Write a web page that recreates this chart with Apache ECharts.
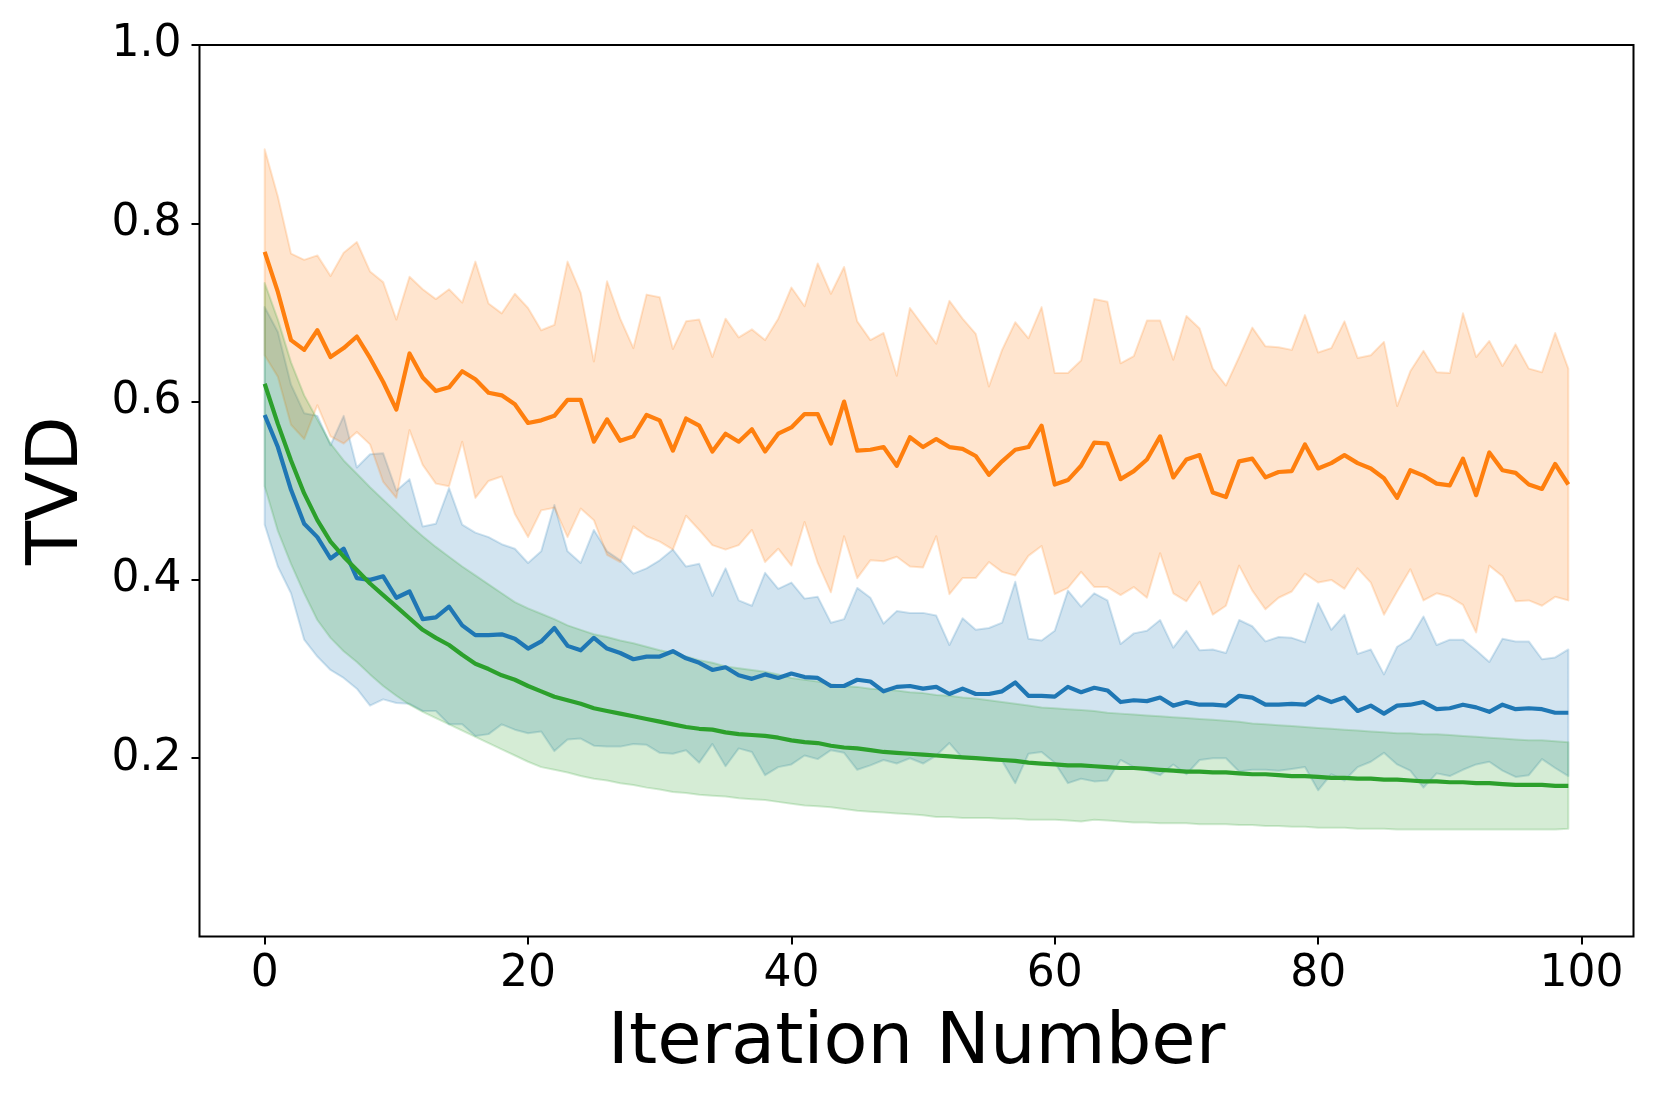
<!DOCTYPE html>
<html>
<head>
<meta charset="utf-8">
<script src="https://cdn.jsdelivr.net/npm/echarts@6/dist/echarts.min.js"></script>
<style>
  html, body { margin: 0; padding: 0; background: #ffffff; }
  #chart { width: 1661px; height: 1107px; }
</style>
</head>
<body>
<div id="chart"></div>
<script>
// ---- data (iterations 0..99) ----
const xTickValues = [0, 20, 40, 60, 80, 100];
const yTickValues = [0.2, 0.4, 0.6, 0.8, 1.0];

const orangeMean = [0.768,0.723,0.669,0.658,0.680,0.650,0.660,0.673,0.649,0.622,0.591,0.654,0.627,0.612,0.616,0.634,0.625,0.610,0.607,0.597,
0.576,0.579,0.584,0.602,0.602,0.555,0.580,0.556,0.561,0.585,0.579,0.545,0.581,0.573,0.544,0.564,0.555,0.569,0.544,0.564,
0.571,0.586,0.586,0.553,0.600,0.545,0.546,0.549,0.528,0.560,0.549,0.558,0.549,0.547,0.539,0.518,0.533,0.546,0.549,0.573,
0.507,0.512,0.528,0.554,0.553,0.513,0.522,0.535,0.561,0.515,0.535,0.540,0.498,0.493,0.533,0.536,0.515,0.521,0.522,0.552,
0.525,0.531,0.540,0.531,0.525,0.514,0.492,0.523,0.517,0.508,0.506,0.536,0.495,0.543,0.523,0.520,0.507,0.502,0.530,0.507];

const orangeUpper = [0.883,0.830,0.766,0.759,0.764,0.741,0.767,0.779,0.746,0.734,0.692,0.740,0.726,0.715,0.726,0.711,0.757,0.710,0.699,0.721,
0.705,0.680,0.686,0.757,0.722,0.645,0.735,0.693,0.660,0.720,0.717,0.659,0.690,0.692,0.650,0.693,0.672,0.681,0.669,0.693,
0.728,0.707,0.755,0.721,0.751,0.690,0.669,0.677,0.629,0.705,0.685,0.665,0.713,0.693,0.676,0.617,0.658,0.689,0.671,0.706,
0.632,0.632,0.646,0.715,0.712,0.643,0.651,0.691,0.691,0.647,0.696,0.682,0.637,0.618,0.650,0.683,0.662,0.661,0.658,0.697,
0.655,0.660,0.690,0.649,0.652,0.667,0.595,0.634,0.657,0.633,0.632,0.699,0.650,0.668,0.640,0.664,0.637,0.633,0.677,0.637];

const orangeLower = [0.652,0.628,0.574,0.558,0.596,0.561,0.553,0.566,0.552,0.510,0.492,0.568,0.529,0.508,0.505,0.555,0.492,0.511,0.516,0.474,
0.448,0.478,0.481,0.448,0.480,0.467,0.428,0.420,0.460,0.449,0.443,0.434,0.472,0.456,0.439,0.434,0.439,0.456,0.420,0.435,
0.416,0.465,0.419,0.386,0.449,0.402,0.422,0.421,0.426,0.415,0.414,0.449,0.384,0.402,0.402,0.420,0.409,0.405,0.427,0.438,
0.384,0.391,0.409,0.392,0.392,0.383,0.392,0.380,0.430,0.385,0.376,0.398,0.361,0.371,0.416,0.388,0.367,0.380,0.387,0.407,
0.397,0.400,0.390,0.413,0.397,0.361,0.387,0.412,0.377,0.385,0.381,0.372,0.341,0.416,0.404,0.376,0.377,0.371,0.381,0.377];

const blueMean = [0.585,0.549,0.501,0.463,0.448,0.424,0.435,0.402,0.400,0.404,0.380,0.387,0.356,0.358,0.370,0.349,0.338,0.338,0.339,0.334,
0.323,0.331,0.346,0.326,0.321,0.335,0.323,0.318,0.311,0.314,0.314,0.320,0.312,0.307,0.299,0.302,0.293,0.289,0.294,0.290,
0.295,0.291,0.290,0.281,0.281,0.288,0.286,0.275,0.280,0.281,0.278,0.280,0.272,0.278,0.272,0.272,0.275,0.285,0.270,0.270,
0.269,0.280,0.274,0.279,0.276,0.263,0.265,0.264,0.268,0.259,0.263,0.260,0.260,0.259,0.270,0.268,0.260,0.260,0.261,0.260,
0.269,0.263,0.268,0.253,0.259,0.250,0.259,0.260,0.263,0.255,0.256,0.260,0.257,0.252,0.260,0.255,0.256,0.255,0.251,0.251];

const blueUpper = [0.706,0.678,0.619,0.587,0.584,0.551,0.584,0.526,0.541,0.542,0.500,0.513,0.460,0.463,0.503,0.462,0.453,0.448,0.440,0.435,
0.419,0.432,0.484,0.432,0.419,0.456,0.432,0.422,0.407,0.413,0.422,0.434,0.415,0.418,0.382,0.413,0.377,0.371,0.408,0.390,
0.397,0.379,0.381,0.352,0.356,0.391,0.380,0.351,0.365,0.363,0.363,0.360,0.327,0.357,0.344,0.346,0.352,0.398,0.334,0.332,
0.343,0.388,0.370,0.385,0.377,0.328,0.340,0.343,0.355,0.324,0.343,0.321,0.322,0.318,0.355,0.348,0.331,0.336,0.335,0.330,
0.374,0.344,0.361,0.317,0.322,0.294,0.325,0.334,0.359,0.327,0.333,0.333,0.321,0.308,0.334,0.331,0.331,0.311,0.313,0.322];

const blueLower = [0.462,0.415,0.385,0.333,0.314,0.299,0.290,0.278,0.259,0.266,0.262,0.261,0.253,0.253,0.238,0.238,0.225,0.227,0.238,0.232,
0.228,0.230,0.208,0.221,0.222,0.214,0.213,0.213,0.216,0.215,0.206,0.205,0.209,0.195,0.216,0.191,0.211,0.207,0.181,0.190,
0.193,0.203,0.199,0.209,0.206,0.187,0.192,0.198,0.194,0.200,0.194,0.203,0.217,0.200,0.200,0.198,0.197,0.172,0.205,0.207,
0.195,0.172,0.177,0.174,0.175,0.198,0.190,0.186,0.181,0.193,0.182,0.198,0.200,0.200,0.185,0.187,0.187,0.186,0.188,0.190,
0.164,0.182,0.175,0.190,0.196,0.206,0.193,0.186,0.167,0.183,0.180,0.187,0.193,0.196,0.186,0.179,0.181,0.199,0.189,0.180];

const greenMean = [0.620,0.575,0.534,0.497,0.467,0.443,0.426,0.411,0.396,0.383,0.370,0.357,0.344,0.335,0.327,0.316,0.306,0.300,0.293,0.288,
0.281,0.275,0.269,0.265,0.261,0.256,0.253,0.250,0.247,0.244,0.241,0.238,0.235,0.233,0.232,0.229,0.227,0.226,0.225,0.223,
0.220,0.218,0.217,0.214,0.212,0.211,0.209,0.207,0.206,0.205,0.204,0.203,0.202,0.201,0.200,0.199,0.198,0.197,0.195,0.194,
0.193,0.192,0.192,0.191,0.190,0.189,0.189,0.188,0.187,0.186,0.185,0.185,0.184,0.184,0.183,0.182,0.182,0.181,0.180,0.180,
0.179,0.178,0.178,0.177,0.177,0.176,0.176,0.175,0.174,0.174,0.173,0.173,0.172,0.172,0.171,0.170,0.170,0.170,0.169,0.169];

const greenUpper = [0.733,0.692,0.644,0.607,0.580,0.553,0.534,0.519,0.504,0.490,0.476,0.462,0.449,0.437,0.426,0.415,0.405,0.395,0.385,0.375,
0.368,0.362,0.356,0.349,0.344,0.339,0.336,0.332,0.329,0.325,0.321,0.318,0.314,0.310,0.307,0.303,0.301,0.299,0.297,0.294,
0.290,0.288,0.286,0.283,0.281,0.280,0.278,0.277,0.276,0.274,0.273,0.271,0.270,0.268,0.267,0.265,0.263,0.261,0.259,0.257,
0.256,0.255,0.254,0.253,0.251,0.250,0.249,0.248,0.247,0.246,0.245,0.244,0.243,0.242,0.241,0.239,0.238,0.237,0.236,0.235,
0.234,0.233,0.232,0.231,0.230,0.229,0.228,0.228,0.227,0.227,0.226,0.225,0.224,0.223,0.222,0.221,0.220,0.220,0.219,0.218];

const greenLower = [0.505,0.455,0.418,0.385,0.355,0.335,0.320,0.308,0.294,0.281,0.270,0.260,0.252,0.245,0.238,0.231,0.224,0.217,0.210,0.203,
0.196,0.190,0.187,0.184,0.180,0.177,0.175,0.172,0.170,0.167,0.165,0.162,0.161,0.159,0.158,0.157,0.155,0.154,0.153,0.151,
0.149,0.147,0.146,0.145,0.143,0.141,0.140,0.139,0.138,0.137,0.136,0.134,0.134,0.133,0.133,0.133,0.132,0.132,0.131,0.131,
0.131,0.130,0.129,0.131,0.130,0.129,0.128,0.128,0.127,0.127,0.127,0.126,0.126,0.126,0.125,0.125,0.124,0.124,0.123,0.123,
0.122,0.122,0.122,0.121,0.121,0.121,0.120,0.120,0.120,0.120,0.120,0.120,0.120,0.120,0.120,0.120,0.120,0.120,0.120,0.121];

// ---- styling ----
const FONT = 'DejaVu Sans';
const COLORS = { blue: '#1f77b4', orange: '#ff7f0e', green: '#2ca02c' };
function rgba(hex, a) {
  const n = parseInt(hex.slice(1), 16);
  return 'rgba(' + ((n >> 16) & 255) + ',' + ((n >> 8) & 255) + ',' + (n & 255) + ',' + a + ')';
}
const pts = arr => arr.map((v, i) => [i, v]);

// Shaded band (like matplotlib fill_between): one polygon through the axis scales.
function bandSeries(name, color, lower, upper) {
  return {
    name: name + ' band', type: 'custom', silent: true, z: 1,
    data: [[0, lower[0], upper[0]]],
    encode: { x: 0, y: [1, 2] },
    renderItem: function (params, api) {
      const poly = [];
      for (let i = 0; i < upper.length; i++) poly.push(api.coord([i, upper[i]]));
      for (let i = lower.length - 1; i >= 0; i--) poly.push(api.coord([i, lower[i]]));
      return {
        type: 'polygon',
        shape: { points: poly },
        style: { fill: rgba(color, 0.2), stroke: rgba(color, 0.2), lineWidth: 2, lineJoin: 'round' }
      };
    }
  };
}
function meanSeries(name, color, mean, z) {
  return {
    name: name, type: 'line', symbol: 'none', data: pts(mean),
    lineStyle: { color: color, width: 4.2, join: 'round', cap: 'butt' }, z: z
  };
}

const chart = echarts.init(document.getElementById('chart'), null, { renderer: 'canvas' });
chart.setOption({
  animation: false,
  backgroundColor: '#ffffff',
  grid: {
    left: 199.5, right: 27.5, top: 45, bottom: 170.5,
    show: true, borderColor: '#000000', borderWidth: 2, backgroundColor: 'transparent'
  },
  xAxis: {
    type: 'value', min: -4.95, max: 103.95,
    axisLine: { show: false, onZero: false },
    splitLine: { show: false },
    axisTick: { show: true, customValues: xTickValues, length: 8, lineStyle: { color: '#000', width: 2 } },
    axisLabel: { customValues: xTickValues, margin: 16, color: '#000', fontSize: 44, fontFamily: FONT },
    name: 'Iteration Number', nameLocation: 'middle', nameGap: 72,
    nameTextStyle: { fontSize: 72, fontFamily: FONT, color: '#000' }
  },
  yAxis: {
    type: 'value', min: 0, max: 1,
    axisLine: { show: false, onZero: false },
    splitLine: { show: false },
    axisTick: { show: true, customValues: yTickValues, length: 8, lineStyle: { color: '#000', width: 2 } },
    axisLabel: {
      customValues: yTickValues, margin: 18, color: '#000', fontSize: 44, fontFamily: FONT,
      formatter: v => Number(v).toFixed(1)
    },
    name: 'TVD', nameLocation: 'middle', nameGap: 105, nameRotate: 90,
    nameTextStyle: { fontSize: 72, fontFamily: FONT, color: '#000' }
  },
  series: [
    bandSeries('blue', COLORS.blue, blueLower, blueUpper),
    bandSeries('orange', COLORS.orange, orangeLower, orangeUpper),
    bandSeries('green', COLORS.green, greenLower, greenUpper),
    meanSeries('orange', COLORS.orange, orangeMean, 5),
    meanSeries('blue', COLORS.blue, blueMean, 6),
    meanSeries('green', COLORS.green, greenMean, 7)
  ]
});
</script>
</body>
</html>
